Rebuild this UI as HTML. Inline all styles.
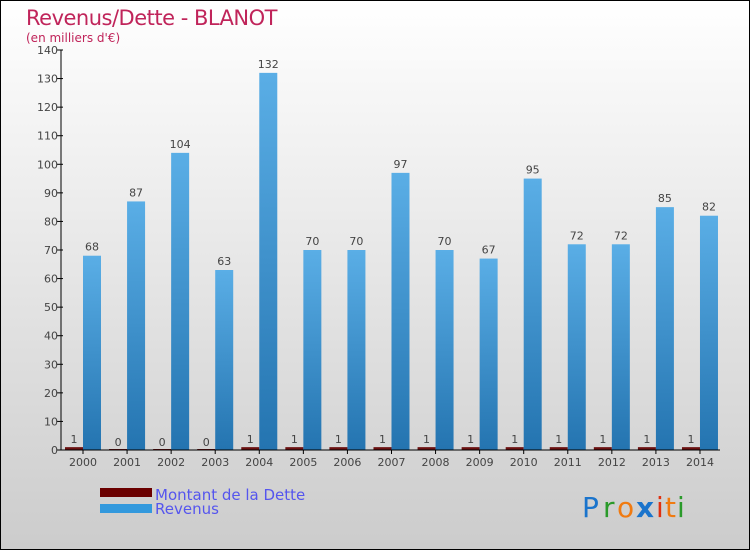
<!DOCTYPE html>
<html><head><meta charset="utf-8"><style>
body{margin:0;width:750px;height:550px;overflow:hidden}
svg{display:block;font-family:"DejaVu Sans","Liberation Sans",sans-serif}
</style></head><body>
<svg id="chart" width="750" height="550">
<defs>
<linearGradient id="bg" x1="0" y1="0" x2="0" y2="1"><stop offset="0" stop-color="#ffffff"/><stop offset="1" stop-color="#cccccc"/></linearGradient>
<linearGradient id="rev" x1="0" y1="0" x2="0" y2="1"><stop offset="0" stop-color="#5aaee6"/><stop offset="1" stop-color="#2474b0"/></linearGradient>
</defs>
<rect x="0.5" y="0.5" width="749" height="549" fill="url(#bg)" stroke="#000"/>
<text x="26" y="25" font-size="21" fill="#c0245a" style="letter-spacing:-0.5px">Revenus/Dette - BLANOT</text>
<text x="26" y="42" font-size="12" fill="#c0245a">(en milliers d'€)</text>
<g id="plot"></g>
<rect x="100" y="488" width="52" height="9" fill="#6b0000"/>
<rect x="100" y="504" width="52" height="9" fill="#3399dd"/>
<text x="155" y="500" font-size="15" fill="#5555ee">Montant de la Dette</text>
<text x="155" y="514" font-size="15" fill="#5555ee">Revenus</text>
<g font-size="28" font-family="'DejaVu Sans',sans-serif">
<text x="582" y="517" fill="#1a74cc">P</text><text x="603" y="517" fill="#2a9a2a">r</text><text x="617" y="517" fill="#f07a10">o</text><text x="636" y="517" fill="#1a74cc" font-weight="bold">x</text><text x="656" y="517" fill="#e03010">i</text><text x="665" y="517" fill="#f07a10">t</text><text x="677" y="517" fill="#2a9a2a">i</text>
</g>
</svg>
<script>
const categories=["2000","2001","2002","2003","2004","2005","2006","2007","2008","2009","2010","2011","2012","2013","2014"];
const dette=[1,0,0,0,1,1,1,1,1,1,1,1,1,1,1];
const revenus=[68,87,104,63,132,70,70,97,70,67,95,72,72,85,82];
const yTicks=[0,10,20,30,40,50,60,70,80,90,100,110,120,130,140];
const NS="http://www.w3.org/2000/svg";
const g=document.getElementById('plot');
const x0=61,x1=720,y0=450,yTop=50,yMax=140;
const step=44.07;
function y(v){return y0-(v/yMax)*(y0-yTop);}
function xc(i){return x0+22+i*step;}
function mk(t,a){const e=document.createElementNS(NS,t);for(const k in a)e.setAttribute(k,a[k]);g.appendChild(e);return e;}
yTicks.forEach(t=>{
 const l=mk('line',{x1:x0-4,x2:x0+2,y1:y(t),y2:y(t),stroke:'#000'});
 
 
 const tx=mk('text',{x:x0-3,y:y(t)+4,'font-size':11,fill:'#444','text-anchor':'end'});
 tx.textContent=t;
 
 
});
categories.forEach((c,i)=>{
 const cx=xc(i);
 const dh=Math.max(y0-y(dette[i]),1);
 const d=mk('rect',{x:cx-18,y:y0-dh,width:18,height:dh,fill:'#6b1010'});
 
 
 const dl=mk('text',{x:cx-9,y:y(dette[i])-4,'font-size':11,fill:'#444','text-anchor':'middle'});
 dl.textContent=dette[i];
 
 
 const r=mk('rect',{x:cx,y:y(revenus[i]),width:18,height:y0-y(revenus[i]),fill:'url(#rev)'});
 
 
 const rl=mk('text',{x:cx+9,y:y(revenus[i])-5,'font-size':11,fill:'#444','text-anchor':'middle'});
 rl.textContent=revenus[i];
 
 
 const tk=mk('line',{x1:cx,x2:cx,y1:y0,y2:y0+4,stroke:'#000'});
 
 
 const xl=mk('text',{x:cx,y:y0+16,'font-size':11,fill:'#444','text-anchor':'middle'});
 xl.textContent=c;
 
 
});
const ya=mk('line',{x1:x0,x2:x0,y1:yTop,y2:y0,stroke:'#000'});


const xa=mk('line',{x1:x0,x2:x1,y1:y0,y2:y0,stroke:'#000'});


</script>
</body></html>
